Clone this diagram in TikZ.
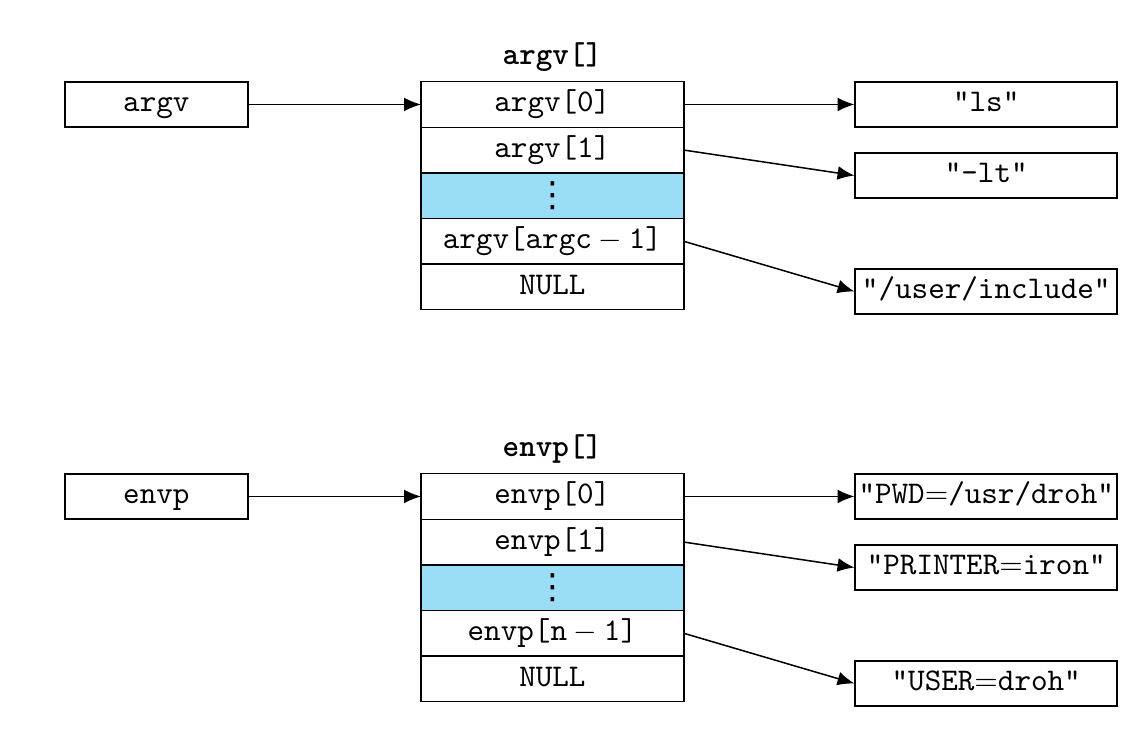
\documentclass[tikz,border=0pt]{standalone}
\usepackage{fontspec}
\newfontfamily\dotsfont{DejaVu Sans}
\usetikzlibrary{arrows.meta}
\definecolor{dotblue}{RGB}{153,221,247}
\newcommand{\celldots}{{\dotsfont\fontsize{11.5}{11.5}\selectfont ⋮}}
\newcommand{\cellfont}{\ttfamily\fontsize{10.45}{12.5}\selectfont}
\begin{document}
\begin{tikzpicture}[
  line width=0.5pt,
  cell/.style={draw, font=\cellfont, minimum width=3.06cm, minimum height=0.531cm, inner sep=0pt, outer sep=0pt, text height=1.6ex, text depth=0.5ex},
  ptrbox/.style={draw, font=\cellfont, minimum width=2.13cm, minimum height=0.524cm, inner sep=0pt, text height=1.6ex, text depth=0.5ex},
  strbox/.style={draw, font=\cellfont, minimum width=3.05cm, minimum height=0.524cm, inner sep=0pt, text height=1.6ex, text depth=0.5ex},
  dotcell/.style={cell, fill=dotblue, text height=, text depth=},
  title/.style={font=\cellfont\bfseries},
  ptr/.style={-{Latex[length=5.6pt,width=4.6pt]}}
]
\useasboundingbox (0,0) rectangle (13.34,-8.61);

% argv
\node[title] (argvtitle) at (6.43,-0.66) {argv[]};
\node[ptrbox] (argv) at (1.82,-1.216) {argv};
\node[cell] (argv0) at (6.43,-1.216) {argv[0]};
\node[cell] (argv1) at (6.43,-1.747) {argv[1]};
\node[dotcell] (argvdots) at (6.43,-2.278) {\celldots};
\node[cell] (argvlast) at (6.43,-2.809) {argv[argc${}-{}$1]};
\node[cell] (argvnull) at (6.43,-3.340) {NULL};
\node[strbox] (ls) at (11.48,-1.216) {"ls"};
\node[strbox] (lt) at (11.48,-2.043) {"-lt"};
\node[strbox] (incl) at (11.48,-3.393) {"/user/include"};
\draw[ptr] (argv) -- (argv0);
\draw[ptr] (argv0) -- (ls);
\draw[ptr] (argv1.east) -- (lt.west);
\draw[ptr] (argvlast.east) -- (incl.west);

% envp
\node[title] (envptitle) at (6.43,-5.23) {envp[]};
\node[ptrbox] (envp) at (1.82,-5.779) {envp};
\node[cell] (envp0) at (6.43,-5.779) {envp[0]};
\node[cell] (envp1) at (6.43,-6.310) {envp[1]};
\node[dotcell] (envpdots) at (6.43,-6.841) {\celldots};
\node[cell] (envplast) at (6.43,-7.372) {envp[n${}-{}$1]};
\node[cell] (envpnull) at (6.43,-7.903) {NULL};
\node[strbox] (pwd) at (11.48,-5.779) {"PWD$=$/usr/droh"};
\node[strbox] (printer) at (11.48,-6.606) {"PRINTER$=$iron"};
\node[strbox] (user) at (11.48,-7.956) {"USER$=$droh"};
\draw[ptr] (envp) -- (envp0);
\draw[ptr] (envp0) -- (pwd);
\draw[ptr] (envp1.east) -- (printer.west);
\draw[ptr] (envplast.east) -- (user.west);
\end{tikzpicture}
\end{document}
